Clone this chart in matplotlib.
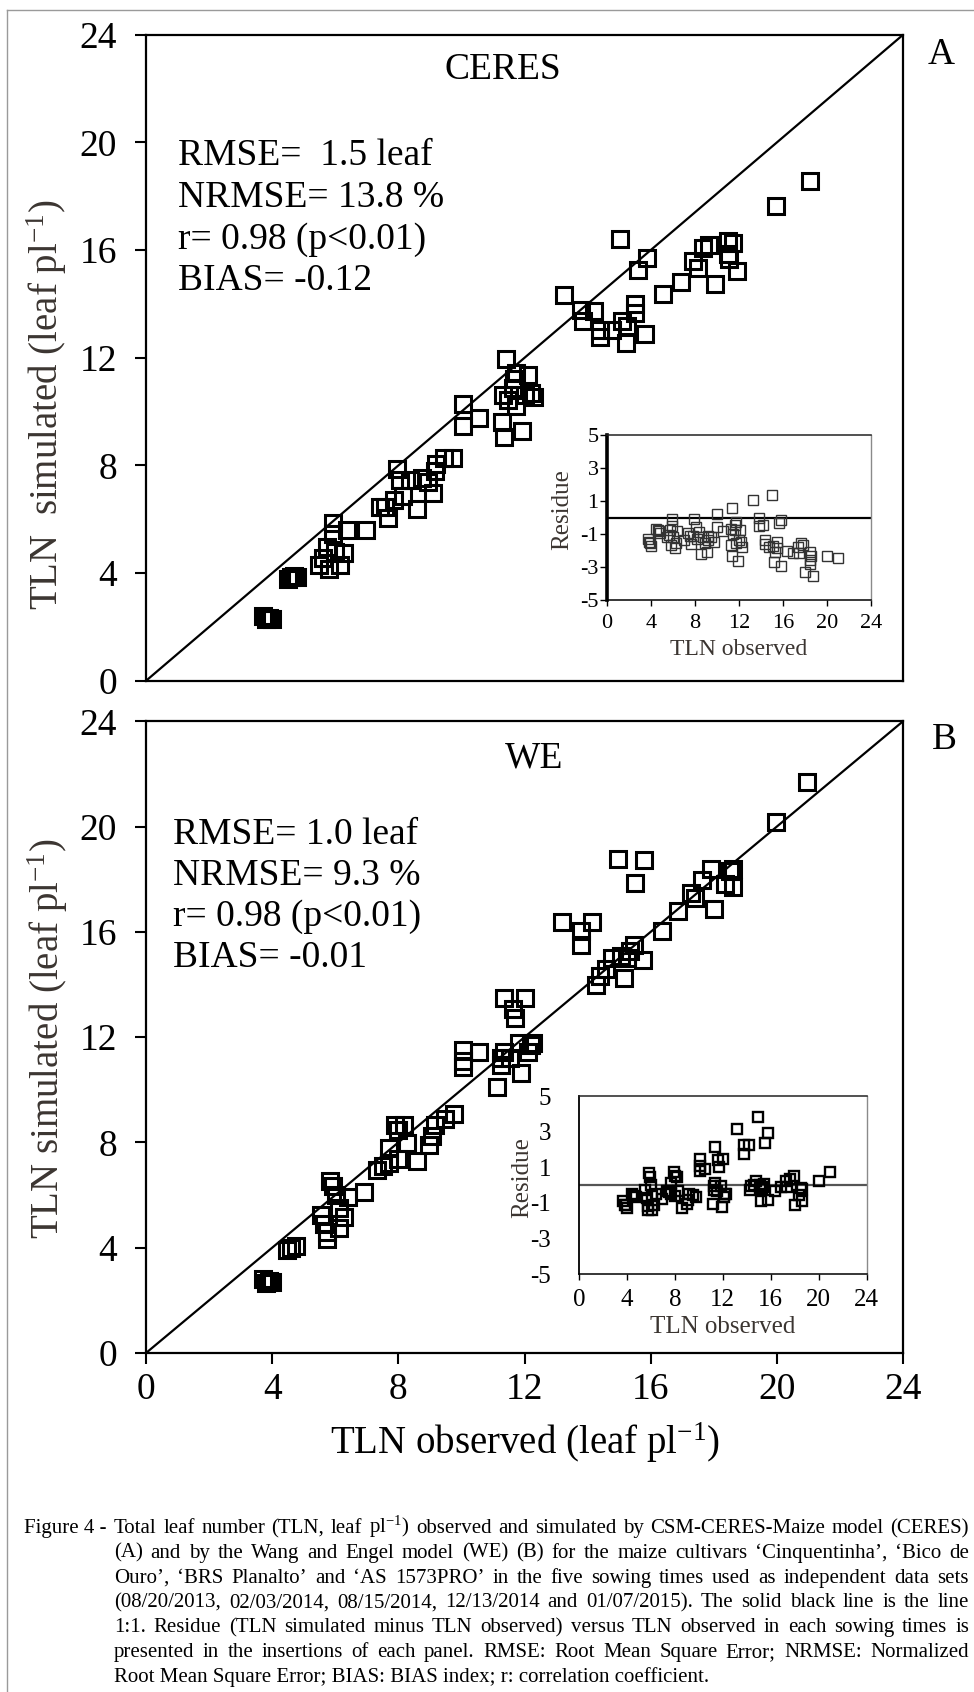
import matplotlib
matplotlib.use('Agg')
import matplotlib.pyplot as plt
import numpy as np
from matplotlib.lines import Line2D

plt.rcParams['font.family'] = ['Liberation Serif', 'DejaVu Serif']
plt.rcParams['mathtext.fontset'] = 'custom'
plt.rcParams['mathtext.rm'] = 'Liberation Serif'
plt.rcParams['mathtext.it'] = 'Liberation Serif:italic'
plt.rcParams['mathtext.bf'] = 'Liberation Serif:bold'
plt.rcParams['axes.unicode_minus'] = False

# ---------------- data ----------------
main_ticks = [0, 4, 8, 12, 16, 20, 24]
inset_yticks = [5, 3, 1, -1, -3, -5]

ceres_obs = [3.7, 3.8, 3.9, 4.0,
             4.5, 4.6, 4.7, 4.8,
             5.93, 5.93, 5.6, 5.8, 6.15, 6.28, 6.38, 6.98, 5.75, 6.0, 5.5,
             7.96, 8.06, 8.36, 7.57, 7.67, 7.41, 8.16, 8.6, 9.09, 8.75, 9.15, 9.19, 9.45, 9.74, 7.87, 8.95,
             10.04, 10.04, 10.57, 11.42, 11.28, 11.36, 11.92, 11.32, 11.62, 11.72, 12.11, 12.21, 12.3, 11.72, 11.48, 12.0, 11.68,
             13.26, 13.79, 13.85, 14.19, 14.39, 14.39, 14.78, 15.08, 15.22, 15.04, 15.87, 15.61, 15.51, 15.51, 15.83, 15.26,
             16.4, 16.96, 17.35, 17.49, 17.65, 18.04, 17.85, 18.44, 18.6, 18.48, 18.74, 18.44,
             19.98, 21.05]
ceres_sim = [2.4, 2.3, 2.35, 2.3,
             3.8, 3.85, 3.9, 3.85,
             5.85, 5.44, 4.56, 4.15, 4.3, 4.73, 5.59, 5.62, 4.97, 4.8, 4.3,
             7.88, 7.46, 7.46, 6.47, 6.05, 6.47, 6.88, 6.38, 6.97, 7.55, 7.79, 8.04, 8.26, 8.26, 6.72, 7.38,
             10.28, 9.45, 9.75, 11.97, 9.62, 9.04, 9.29, 10.6, 10.86, 11.44, 11.36, 10.7, 10.53, 10.2, 10.45, 10.61, 11.2,
             14.34, 13.76, 13.35, 13.73, 13.02, 12.77, 13.02, 13.38, 12.55, 16.42, 15.7, 15.26, 14.01, 13.68, 12.89, 13.18,
             14.38, 14.81, 15.59, 15.34, 16.09, 14.76, 16.2, 16.33, 16.25, 15.67, 15.21, 15.84,
             17.63, 18.57]

we_obs = [3.7, 3.8, 3.9, 4.0,
          4.46, 4.6, 4.75,
          5.64, 5.74, 5.84, 5.93, 6.03, 6.13, 6.29, 6.42, 6.91, 5.54, 6.13, 5.74,
          7.31, 7.5, 7.7, 7.9, 8.0, 8.19, 8.29, 8.0, 8.59, 8.98, 9.08, 9.17, 9.47, 9.76, 7.7,
          10.06, 10.06, 10.06, 10.55, 11.14, 11.24, 11.34, 11.24, 11.53, 11.89, 11.34, 11.63, 11.69, 12.02, 11.83, 12.22, 12.12, 12.28,
          13.2, 13.79, 13.79, 14.15, 14.28, 14.38, 14.58, 14.77, 15.17, 14.97, 15.8, 15.5, 15.36, 15.46, 15.76, 15.07, 15.26,
          16.35, 16.88, 17.27, 17.39, 17.62, 17.92, 18.01, 18.5, 18.6, 18.37, 18.6,
          19.98, 20.96]
we_sim = [2.8, 2.65, 2.75, 2.7,
          3.93, 3.99, 4.07,
          4.92, 4.58, 6.53, 6.36, 6.02, 4.75, 5.17, 5.94, 6.11, 5.26, 5.51, 4.32,
          6.95, 7.12, 7.8, 8.65, 8.48, 8.65, 7.97, 7.38, 7.29, 7.89, 8.23, 8.65, 8.9, 9.07, 7.2,
          11.53, 11.11, 10.85, 11.45, 10.09, 10.94, 11.45, 11.19, 11.19, 10.63, 13.48, 13.06, 12.72, 13.48, 11.79, 11.7, 11.45, 11.79,
          16.37, 16.03, 15.52, 16.37, 13.99, 14.33, 14.59, 15.01, 14.25, 18.78, 18.74, 17.86, 15.26, 15.52, 14.93, 15.09, 15.01,
          16.03, 16.79, 17.47, 17.3, 17.98, 18.4, 16.88, 18.32, 17.72, 17.81, 18.4,
          20.18, 21.71]

ceres_stats = ["RMSE=  1.5 leaf", "NRMSE= 13.8 %", "r= 0.98 (p<0.01)", "BIAS= -0.12"]
we_stats = ["RMSE= 1.0 leaf", "NRMSE= 9.3 %", "r= 0.98 (p<0.01)", "BIAS= -0.01"]

caption_label = "Figure 4 -"
caption_lines = [
    "Total leaf number (TLN, leaf pl$^{-1}$) observed and simulated by CSM-CERES-Maize model (CERES)",
    "(A) and by the Wang and Engel model (WE) (B) for the maize cultivars \u2018Cinquentinha\u2019, \u2018Bico de",
    "Ouro\u2019, \u2018BRS Planalto\u2019 and \u2018AS 1573PRO\u2019 in the five sowing times used as independent data sets",
    "(08/20/2013, 02/03/2014, 08/15/2014, 12/13/2014 and 01/07/2015). The solid black line is the line",
    "1:1. Residue (TLN simulated minus TLN observed) versus TLN observed in each sowing times is",
    "presented in the insertions of each panel. RMSE: Root Mean Square Error; NRMSE: Normalized",
    "Root Mean Square Error; BIAS: BIAS index; r: correlation coefficient.",
]

# ---------------- layout ----------------
W, H = 974, 1692
fig = plt.figure(figsize=(W / 100, H / 100), dpi=100)
fig.patch.set_facecolor('white')


def fx(px):
    return px / W


def fy(py):
    return 1 - py / H


def rect(l, t, r, b):
    return [l / W, 1 - b / H, (r - l) / W, (b - t) / H]


LABEL_COLOR = '#3b3531'

axA = fig.add_axes(rect(146, 34.8, 903, 680.8))
axB = fig.add_axes(rect(146, 721.3, 903, 1353))
insA = fig.add_axes(rect(607, 435, 870.7, 600))
insB = fig.add_axes(rect(579, 1096, 866.7, 1274))


def style_main(ax, show_x):
    ax.set_xlim(0, 24)
    ax.set_ylim(0, 24)
    ax.set_xticks(main_ticks)
    ax.set_yticks(main_ticks)
    for s in ax.spines.values():
        s.set_linewidth(1.6)
        s.set_color('black')
    ax.tick_params(axis='y', direction='out', length=8, width=1.5, pad=13,
                   labelsize=27, colors='black')
    if show_x:
        ax.tick_params(axis='x', direction='out', length=8, width=1.5, pad=6,
                       labelsize=27, colors='black')
    else:
        ax.tick_params(axis='x', length=0, labelbottom=False)
    ax.plot([0, 24], [0, 24], color='black', lw=1.6, zorder=2)


style_main(axA, False)
style_main(axB, True)

axA.plot(ceres_obs, ceres_sim, 's', ms=12, mfc='none', mec='black', mew=2.2, zorder=3)
axB.plot(we_obs, we_sim, 's', ms=12, mfc='none', mec='black', mew=2.2, zorder=3)

axA.text(11.3, 22.7, "CERES", fontsize=27, ha='center', va='center')
axB.text(12.3, 22.6, "WE", fontsize=27, ha='center', va='center')

for i, s in enumerate(ceres_stats):
    axA.text(1.0, 19.5 - 1.55 * i, s, fontsize=27, ha='left', va='center')
for i, s in enumerate(we_stats):
    axB.text(0.85, 19.68 - 1.56 * i, s, fontsize=27, ha='left', va='center')

fig.text(fx(941), fy(55), "A", fontsize=27, ha='center', va='center')
fig.text(fx(944), fy(740), "B", fontsize=27, ha='center', va='center')

fig.text(fx(47), fy(405), "TLN  simulated (leaf pl$^{-1}$)", rotation=90,
         fontsize=28, ha='center', va='center', color=LABEL_COLOR)
fig.text(fx(48), fy(1039), "TLN simulated (leaf pl$^{-1}$)", rotation=90,
         fontsize=28, ha='center', va='center', color=LABEL_COLOR)
fig.text(fx(525), fy(1443), "TLN observed (leaf pl$^{-1}$)",
         fontsize=28, ha='center', va='center', color='black')

# ---------------- insets ----------------
ceres_res = [s - o for o, s in zip(ceres_obs, ceres_sim)]
we_res = [s - o for o, s in zip(we_obs, we_sim)]


def style_inset(ax, left_lw, tick_fs, ypad, ylen, xpad, hcolor):
    ax.set_xlim(0, 24)
    ax.set_ylim(-5, 5)
    ax.set_xticks(main_ticks)
    ax.set_yticks(inset_yticks)
    ax.set_yticklabels([str(v) for v in inset_yticks])
    ax.spines['left'].set_linewidth(left_lw)
    ax.spines['left'].set_color('black')
    ax.spines['bottom'].set_linewidth(1.1)
    ax.spines['bottom'].set_color('black')
    ax.spines['top'].set_linewidth(1.1)
    ax.spines['top'].set_color('#222222')
    ax.spines['right'].set_linewidth(1.0)
    ax.spines['right'].set_color('#8a8a8a')
    ax.tick_params(axis='y', direction='out', length=ylen, width=1.0, pad=ypad,
                   labelsize=tick_fs, colors='black')
    ax.tick_params(axis='x', direction='out', length=4, width=1.0, pad=xpad,
                   labelsize=tick_fs, colors='black')
    ax.axhline(0, color=hcolor, lw=1.6, zorder=1)
    ax.set_facecolor('white')
    ax.set_zorder(5)


style_inset(insA, 2.6, 16, 1, 5, 6, 'black')
style_inset(insB, 1.3, 18, 20, 0, 7, '#555555')

insA.plot(ceres_obs, ceres_res, 's', ms=7.5, mfc='none', mec='#333333', mew=1.0, zorder=3)
insB.plot(we_obs, we_res, 's', ms=7.5, mfc='none', mec='black', mew=1.7, zorder=3)

insA.text(0.5, -0.30, "TLN observed", transform=insA.transAxes, fontsize=17,
          ha='center', va='center', color=LABEL_COLOR)
insB.text(0.5, -0.30, "TLN observed", transform=insB.transAxes, fontsize=18,
          ha='center', va='center', color=LABEL_COLOR)
insA.text(-0.17, 0.55, "Residue", transform=insA.transAxes, fontsize=18, rotation=90,
          ha='center', va='center', color=LABEL_COLOR, zorder=10,
          bbox=dict(facecolor='white', edgecolor='none', pad=0.0))
insB.text(-0.198, 0.54, "Residue", transform=insB.transAxes, fontsize=18, rotation=90,
          ha='center', va='center', color=LABEL_COLOR, zorder=10)

# ---------------- page frame ----------------
fig.add_artist(Line2D([fx(7), fx(7)], [fy(10), 0], color='#9a9a9a', lw=1.0))
fig.add_artist(Line2D([fx(7), 1], [fy(10), fy(10)], color='#9a9a9a', lw=1.0))

# ---------------- caption (justified) ----------------
renderer = fig.canvas.get_renderer()


def twidth(s, size):
    t = fig.text(0, 0, s, fontsize=size)
    w = t.get_window_extent(renderer).width
    t.remove()
    return w


cap_left, cap_indent, cap_right = 23.6, 114.0, 969.0
cap_size = 15.2
target = cap_right - cap_indent
nat = max(twidth(l, cap_size) for l in caption_lines[:-1])
if nat > target * 0.985:
    cap_size = cap_size * target * 0.985 / nat

base0, step = 1533.0, 24.8
fig.text(fx(cap_left), fy(base0), caption_label, fontsize=cap_size, ha='left', va='baseline')
for i, line in enumerate(caption_lines):
    yb = fy(base0 + step * i)
    if i == len(caption_lines) - 1:
        fig.text(fx(cap_indent), yb, line, fontsize=cap_size, ha='left', va='baseline')
        continue
    words = line.split(' ')
    widths = [twidth(w, cap_size) for w in words]
    gap = (target - sum(widths)) / (len(words) - 1)
    x = cap_indent
    for w, wd in zip(words, widths):
        fig.text(fx(x), yb, w, fontsize=cap_size, ha='left', va='baseline')
        x += wd + gap

fig.savefig('out.png', dpi=100, facecolor='white')
